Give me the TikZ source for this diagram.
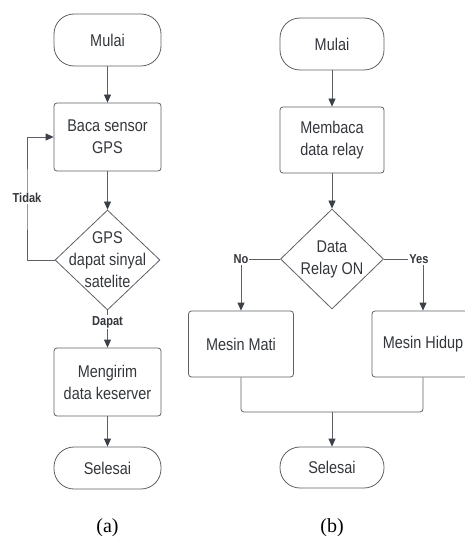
\documentclass[tikz,border=0pt]{standalone}
\usepackage{fontspec}
\setmainfont{Liberation Sans}[FakeStretch=0.85]
\newfontfamily\capfont{Liberation Serif}
\usepackage{xcolor}
\usetikzlibrary{shapes.geometric}
\usetikzlibrary{arrows.meta}
\definecolor{linegray}{HTML}{5E6066}
\definecolor{textgray}{HTML}{33363B}
\definecolor{tipgray}{HTML}{3B3F48}
\tikzset{x=1pt, y=-1pt,
 every node/.style={text=textgray, font=\fontsize{17}{22}\selectfont, align=center},
 terminal/.style={draw=linegray, rounded corners=20pt, line width=0.8pt},
 process/.style={draw=linegray, rounded corners=3pt, line width=0.8pt},
 decision/.style={draw=linegray, diamond, inner sep=0pt, line width=0.8pt},
 flow/.style={draw=linegray, line width=0.8pt, -{Triangle[length=8pt,width=7pt,color=tipgray]}},
 link/.style={draw=linegray, line width=0.8pt, rounded corners=3pt},
 tag/.style={fill=white, inner sep=1pt, font=\fontsize{13}{14}\selectfont\bfseries},
 caption/.style={font=\capfont\fontsize{20}{22}\selectfont, text=black},
 }

\begin{document}
\begin{tikzpicture}
        \useasboundingbox (0,0) rectangle (464,540);

        % (a)
        \node[terminal, minimum width=107pt, minimum height=52pt] (mulaiA) at (107.5, 40) {Mulai};
        \node[process, minimum width=107pt, minimum height=68pt] (bacaA) at (107.5, 137) {Baca sensor\\GPS};
        \node[decision, minimum width=105pt, minimum height=100pt,
              label={[align=center]center:GPS\\dapat sinyal\\satelite}] (gpsA) at (107.5, 260) {};
        \node[process, minimum width=107pt, minimum height=68pt] (kirimA) at (107.5, 382) {Mengirim\\data keserver};
        \node[terminal, minimum width=107pt, minimum height=42pt] (selesaiA) at (107.5, 468) {Selesai};
        \node[caption] (capA) at (107.5, 528) {(a)};

        \draw[flow] (mulaiA) -- (bacaA);
        \draw[flow] (bacaA) -- (gpsA);
        \draw[flow] (gpsA.west) -| (27, 200) |- (bacaA.west);
        \node[tag] (tidak) at (27, 198) {Tidak};
        \draw[flow] (gpsA.south) -- (kirimA.north);
        \node[tag] (dapat) at (107.5, 322) {Dapat};
        \draw[flow] (kirimA) -- (selesaiA);

        % (b)
        \node[terminal, minimum width=104pt, minimum height=52pt] (mulaiB) at (332, 44) {Mulai};
        \node[process, minimum width=104pt, minimum height=66pt] (bacaB) at (332, 140) {Membaca\\data relay};
        \node[decision, minimum width=103pt, minimum height=100pt,
              label={[align=center]center:Data\\Relay ON}] (relayB) at (332, 259) {};
        \node[process, minimum width=105pt, minimum height=66pt] (matiB) at (241, 344) {Mesin Mati};
        \node[process, minimum width=102pt, minimum height=66pt] (hidupB) at (423, 344) {Mesin Hidup};
        \node[terminal, minimum width=104pt, minimum height=41pt] (selesaiB) at (332, 467.5) {Selesai};
        \node[caption] (capB) at (332, 528) {(b)};

        \draw[flow] (mulaiB) -- (bacaB);
        \draw[flow] (bacaB) -- (relayB);
        \draw[flow] (relayB.west) -| (matiB.north);
        \node[tag] (no) at (241, 259) {No};
        \draw[flow] (relayB.east) -| (hidupB.north);
        \node[tag] (yes) at (419, 259) {Yes};
        \draw[link] (matiB.south) -- (241, 412) -- (423, 412) -- (hidupB.south);
        \draw[flow] (332, 412) -- (selesaiB.north);
\end{tikzpicture}
\end{document}
